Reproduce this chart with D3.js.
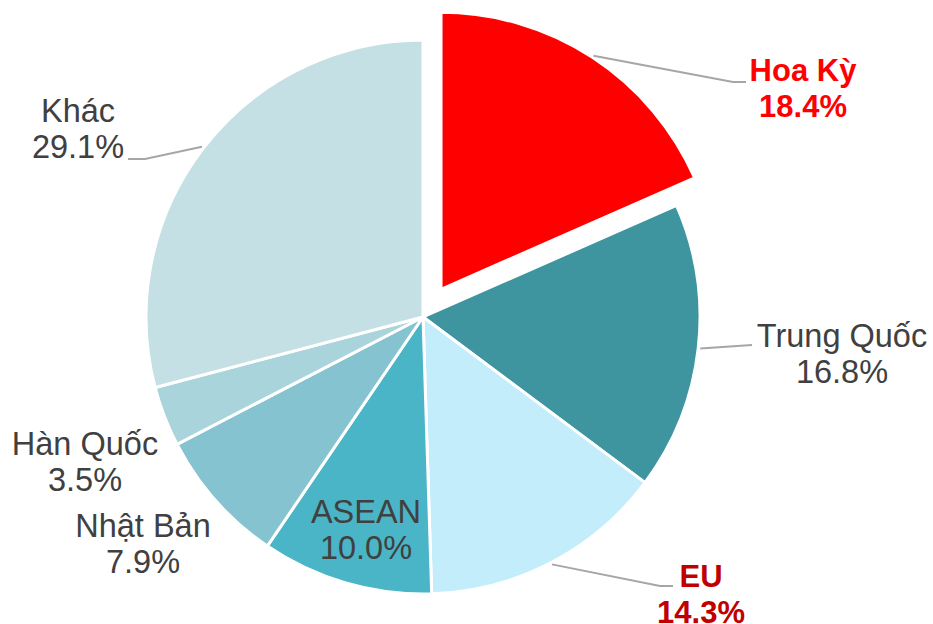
<!DOCTYPE html>
<html>
<head>
<meta charset="utf-8">
<script src="https://cdn.jsdelivr.net/npm/d3@7"></script>
<style>
  body { margin: 0; background: #fff; }
  text { font-family: "Liberation Sans", Arial, sans-serif; }
</style>
</head>
<body>
<div class="chart"></div>
<script>
// data
var names = ["Hoa Kỳ", "Trung Quốc", "EU", "ASEAN", "Nhật Bản", "Hàn Quốc", "Khác"];
var shares = [18.4, 16.8, 14.3, 10.0, 7.9, 3.5, 29.1];
var colors = ["#FF0000", "#3E95A0", "#C3EDFA", "#4AB5C6", "#86C3D0", "#AAD4DC", "#C5E0E5"];

var w = 933, h = 624,
    cx = 423, cy = 317,
    r = 277,
    explode = 33;

// label layout: center x, first baseline, optional leader end
var labelPos = {
  "Hoa Kỳ":     {x: 803, y: 81,  fill: "#FF0000", bold: true,  lead: [[733, 82], [746, 82]]},
  "Trung Quốc": {x: 842, y: 347, fill: "#404040", bold: false, lead: [[752, 345]]},
  "EU":         {x: 701, y: 587, fill: "#C00000", bold: true,  lead: [[660, 586], [673, 586]]},
  "ASEAN":      {x: 366, y: 523, fill: "#404040", bold: false, lead: null},
  "Nhật Bản":   {x: 143, y: 537, fill: "#404040", bold: false, lead: null},
  "Hàn Quốc":   {x: 85,  y: 455, fill: "#404040", bold: false, lead: null},
  "Khác":       {x: 78,  y: 122, fill: "#404040", bold: false, lead: [[145, 159], [128, 159]]}
};

var data = names.map(function(n, i) {
  return {name: n, value: shares[i], color: colors[i]};
});

var svg = d3.select(".chart")
            .append("svg")
            .attr("width", w)
            .attr("height", h);

var pie = d3.pie()
            .sort(null)
            .value(function(d) { return d.value; });

var arc = d3.arc()
            .innerRadius(0)
            .outerRadius(r);

var arcs = pie(data);

function offset(d) {
  // only the first slice is pulled out
  if (d.index !== 0) return [0, 0];
  var a = (d.startAngle + d.endAngle) / 2;
  return [Math.sin(a) * explode, -Math.cos(a) * explode];
}

var g = svg.append("g")
           .attr("transform", "translate(" + cx + "," + cy + ")");

g.selectAll("path.slice")
  .data(arcs)
  .enter()
  .append("path")
  .attr("class", "slice")
  .attr("d", arc)
  .attr("transform", function(d) {
    var o = offset(d);
    return "translate(" + o[0] + "," + o[1] + ")";
  })
  .attr("fill", function(d) { return d.data.color; })
  .attr("stroke", "#fff")
  .attr("stroke-width", 3)
  .attr("stroke-linejoin", "round");

//leader lines
arcs.forEach(function(d) {
  var lp = labelPos[d.data.name];
  if (!lp.lead) return;
  var a = (d.startAngle + d.endAngle) / 2;
  var o = offset(d);
  var start = [cx + o[0] + Math.sin(a) * (r + 2), cy + o[1] - Math.cos(a) * (r + 2)];
  var pts = [start].concat(lp.lead);
  svg.append("path")
     .attr("d", d3.line()(pts))
     .attr("fill", "none")
     .attr("stroke", "#A6A6A6")
     .attr("stroke-width", 2);
});

//labels
arcs.forEach(function(d) {
  var lp = labelPos[d.data.name];
  var t = svg.append("text")
     .attr("text-anchor", "middle")
     .attr("fill", lp.fill)
     .attr("font-size", lp.bold ? "31px" : "32.5px")
     .attr("font-weight", lp.bold ? "bold" : "normal");
  t.append("tspan")
   .attr("x", lp.x)
   .attr("y", lp.y)
   .text(d.data.name);
  t.append("tspan")
   .attr("x", lp.x)
   .attr("y", lp.y + 36)
   .text(d3.format(".1f")(d.data.value) + "%");
});
</script>
</body>
</html>
